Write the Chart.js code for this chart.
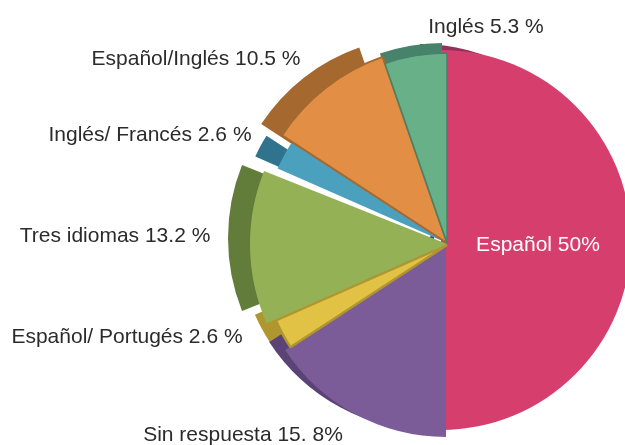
<!DOCTYPE html>
<html><head><meta charset="utf-8">
<style>html,body{margin:0;padding:0;background:#fff}canvas{display:block}</style>
<script src="https://cdn.jsdelivr.net/npm/chart.js@4"></script>
</head><body><canvas id="c" width="625" height="445"></canvas>
<script>
const categories = ['Español','Sin respuesta','Español/ Portugés','Tres idiomas','Inglés/ Francés','Español/Inglés','Inglés'];
const values = [50,15.8,2.6,13.2,2.6,10.5,5.3];
const labelTexts = ['Español 50%','Sin respuesta 15. 8%','Español/ Portugés 2.6 %','Tres idiomas 13.2 %','Inglés/ Francés 2.6 %','Español/Inglés 10.5 %','Inglés 5.3 %'];
const faceColors = ['#d63f6d','#7b5c99','#e2c244','#94b255','#4aa0bd','#e28f45','#67b088'];
const sideColors = ['#96305c','#5b4377','#b0962f','#627c39','#2f748c','#a5682e','#47826a'];
const edgeColors = ['#d63f6d','#7b5c99','#b0962f','#a59a3c','#4aa0bd','#a5682e','#47826a'];
const edgeWidths = [0,0,2.5,0,0,2,1.5];
// [dx, dy, radius, startTrimDeg, endTrimDeg]
const faceGeom = [[-6,-3,190,0,0],[-1,2,192,0,0],[0,2,187,0,0],[0,1,197,0,-2],[0,0,185,0,0],[0,0,197,0,0],[0,0,190,0,0]];
const sideGeom = [[-27,-13,186,0,-150],[-13,-9,197,0,0],[-20,-4,188,0,0],[-22,-5,197,2,-2],[-59,-28,145,0,0],[-25,-14,192,0,0],[-5,-10,190,0,0]];
const labelPos = [[538,245],[243,435],[127,337],[115,236],[150,135],[196,59],[486,27]];
const labelColors = ['#ffffff','#2b2b2b','#2b2b2b','#2b2b2b','#2b2b2b','#2b2b2b','#2b2b2b'];
const rad = Math.PI/180;

const shape = {
  id:'shape',
  beforeDatasetsDraw(chart){
    [faceGeom,sideGeom].forEach((geom,d)=>{
      chart.getDatasetMeta(d).data.forEach((arc,i)=>{
        const g = geom[i];
        arc.x += g[0]; arc.y += g[1];
        arc.innerRadius = 0; arc.outerRadius = g[2];
        arc.startAngle += g[3]*rad; arc.endAngle += g[4]*rad;
      });
    });
  },
  afterDraw(chart){
    const ctx = chart.ctx;
    ctx.save();
    ctx.font = '21px "Liberation Sans", Arial, sans-serif';
    ctx.textAlign='center'; ctx.textBaseline='middle';
    labelTexts.forEach((t,i)=>{ctx.fillStyle=labelColors[i];ctx.fillText(t,labelPos[i][0],labelPos[i][1]);});
    ctx.restore();
  }
};

new Chart(document.getElementById('c'),{
  type:'pie',
  data:{labels:categories,datasets:[
    {label:'face',data:values,backgroundColor:faceColors,borderColor:edgeColors,borderWidth:edgeWidths,clip:false},
    {label:'side',data:values,backgroundColor:sideColors,borderWidth:0,clip:false}
  ]},
  options:{
    responsive:false,animation:false,
    layout:{padding:{left:269,top:41}},
    plugins:{legend:{display:false},tooltip:{enabled:false}},
    events:[]
  },
  plugins:[shape]
});
</script></body></html>
